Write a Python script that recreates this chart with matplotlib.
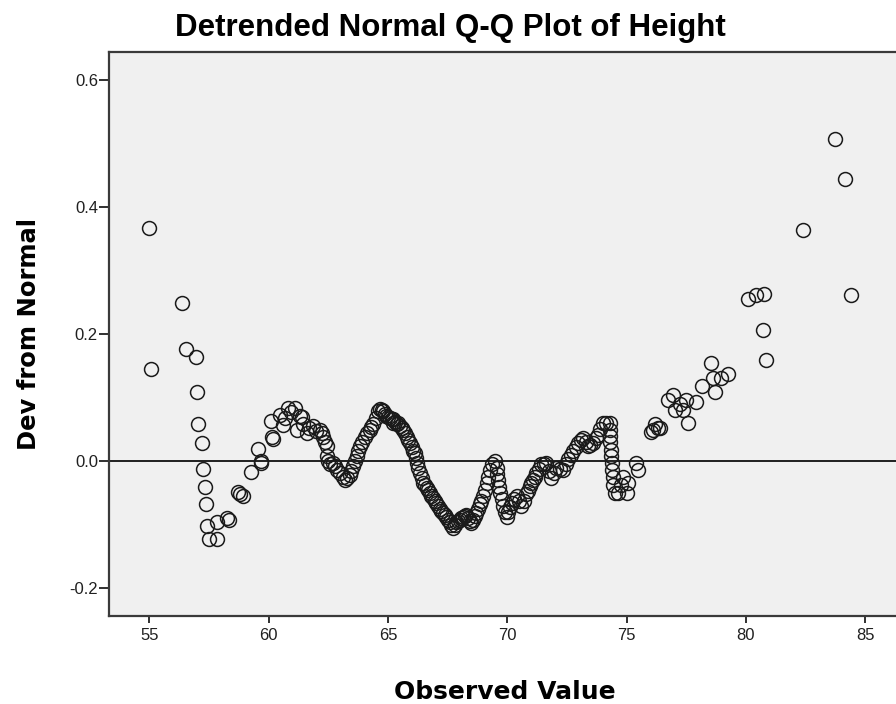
import matplotlib.pyplot as plt

obs = [55.00, 55.06, 56.38, 56.54, 56.94, 57.01, 57.05, 57.19, 57.24, 57.32,
       57.39, 57.42, 57.51, 57.85, 57.82, 58.24, 58.35, 58.70, 58.80, 58.91,
       59.25, 59.56, 59.66, 59.70, 60.08, 60.15, 60.20, 60.47, 60.59, 60.70,
       60.82, 60.95, 61.10, 61.17, 61.31, 61.40, 61.45, 61.59, 61.70, 61.87,
       62.00, 62.15, 62.22, 62.29, 62.36, 62.43, 62.43, 62.50, 62.57, 62.68,
       62.78, 62.88, 62.99, 63.10, 63.20, 63.30, 63.40, 63.47, 63.54, 63.62,
       63.69, 63.75, 63.82, 63.92, 64.03, 64.13, 64.24, 64.31, 64.38, 64.48,
       64.59, 64.66, 64.73, 64.80, 64.86, 64.93, 65.00, 65.08, 65.15, 65.22,
       65.22, 65.30, 65.36, 65.43, 65.50, 65.57, 65.64, 65.71, 65.78, 65.85,
       65.92, 66.00, 66.06, 66.13, 66.17, 66.20, 66.27, 66.34, 66.41, 66.48,
       66.55, 66.62, 66.68, 66.75, 66.82, 66.89, 66.96, 67.03, 67.10, 67.17,
       67.24, 67.31, 67.38, 67.45, 67.52, 67.59, 67.66, 67.73, 67.80, 67.87,
       67.94, 68.01, 68.08, 68.15, 68.22, 68.29, 68.36, 68.43, 68.50, 68.57,
       68.64, 68.71, 68.78, 68.85, 68.92, 68.99, 69.06, 69.13, 69.20, 69.27,
       69.38, 69.48, 69.55, 69.58, 69.62, 69.66, 69.69, 69.76, 69.83, 69.90,
       69.97, 70.04, 70.11, 70.18, 70.28, 70.39, 70.49, 70.59, 70.70, 70.80,
       70.87, 70.94, 71.01, 71.08, 71.15, 71.22, 71.32, 71.43, 71.53, 71.64,
       71.75, 71.85, 71.95, 72.06, 72.20, 72.34, 72.45, 72.55, 72.66, 72.76,
       72.87, 72.97, 73.07, 73.17, 73.28, 73.38, 73.48, 73.59, 73.70, 73.80,
       73.90, 74.01, 74.15, 74.29, 74.29, 74.30, 74.31, 74.33, 74.35, 74.37,
       74.39, 74.41, 74.45, 74.50, 74.65, 74.75, 74.86, 75.00, 75.06, 75.41,
       75.48, 76.04, 76.11, 76.18, 76.32, 76.38, 76.74, 76.94, 77.01, 77.22,
       77.36, 77.50, 77.57, 77.92, 78.18, 78.55, 78.62, 78.69, 78.97, 79.25,
       80.10, 80.41, 80.74, 80.71, 80.85, 82.39, 83.74, 84.17, 84.40]

dev = [0.367, 0.146, 0.249, 0.177, 0.164, 0.109, 0.058, 0.029, -0.012, -0.040,
       -0.068, -0.102, -0.122, -0.122, -0.095, -0.089, -0.093, -0.048, -0.051, -0.054,
       -0.017, 0.020, 0.000, -0.002, 0.063, 0.039, 0.035, 0.073, 0.057, 0.068,
       0.084, 0.078, 0.084, 0.050, 0.071, 0.069, 0.058, 0.045, 0.052, 0.055,
       0.048, 0.050, 0.044, 0.039, 0.030, 0.024, 0.008, 0.000, -0.005, -0.003,
       -0.008, -0.014, -0.018, -0.025, -0.029, -0.026, -0.021, -0.015, -0.008, 0.000,
       0.008, 0.016, 0.024, 0.031, 0.039, 0.045, 0.050, 0.054, 0.058, 0.068,
       0.079, 0.082, 0.081, 0.079, 0.075, 0.071, 0.070, 0.068, 0.066, 0.066,
       0.060, 0.062, 0.058, 0.060, 0.055, 0.052, 0.050, 0.044, 0.038, 0.033,
       0.029, 0.022, 0.016, 0.013, 0.005, -0.003, -0.010, -0.018, -0.026, -0.034,
       -0.038, -0.042, -0.045, -0.050, -0.054, -0.058, -0.062, -0.066, -0.071, -0.075,
       -0.078, -0.081, -0.085, -0.088, -0.092, -0.096, -0.100, -0.105, -0.100, -0.096,
       -0.094, -0.092, -0.090, -0.088, -0.086, -0.084, -0.090, -0.094, -0.097, -0.092,
       -0.086, -0.081, -0.075, -0.068, -0.062, -0.055, -0.045, -0.034, -0.024, -0.013,
       -0.005, 0.000, -0.010, -0.020, -0.029, -0.040, -0.050, -0.060, -0.071, -0.080,
       -0.087, -0.080, -0.072, -0.066, -0.060, -0.055, -0.063, -0.071, -0.062, -0.052,
       -0.046, -0.039, -0.034, -0.029, -0.024, -0.018, -0.012, -0.005, -0.004, -0.003,
       -0.015, -0.026, -0.018, -0.010, -0.012, -0.013, -0.005, 0.003, 0.010, 0.016,
       0.022, 0.029, 0.033, 0.037, 0.030, 0.024, 0.026, 0.029, 0.036, 0.042,
       0.051, 0.060, 0.060, 0.060, 0.050, 0.040, 0.030, 0.018, 0.008, -0.002,
       -0.013, -0.025, -0.037, -0.050, -0.050, -0.038, -0.024, -0.050, -0.034, -0.003,
       -0.013, 0.046, 0.050, 0.058, 0.053, 0.052, 0.096, 0.105, 0.081, 0.090,
       0.081, 0.096, 0.061, 0.094, 0.119, 0.154, 0.131, 0.109, 0.131, 0.137,
       0.255, 0.262, 0.264, 0.207, 0.160, 0.364, 0.508, 0.445, 0.262]

x_ticks = [55, 60, 65, 70, 75, 80, 85]
y_ticks = [-0.2, 0.0, 0.2, 0.4, 0.6]

fig = plt.figure(figsize=(8.96, 7.04), dpi=100)
ax = fig.add_axes([109 / 896, 88 / 704, 792 / 896, 564 / 704])
ax.set_facecolor('#f0f0f0')

ax.axhline(0, color='#202020', linewidth=1.4, zorder=1)
ax.plot(obs, dev, linestyle='none', marker='o', markersize=10,
        markerfacecolor='none', markeredgecolor='#1a1a1a', markeredgewidth=1.1, zorder=2)

ax.set_xlim(53.31, 86.5)
ax.set_ylim(-0.2436, 0.6445)
ax.set_xticks(x_ticks)
ax.set_yticks(y_ticks)
ax.set_yticklabels(['-0.2', '0.0', '0.2', '0.4', '0.6'])

for side in ax.spines.values():
    side.set_color('#3a3a3a')
    side.set_linewidth(1.6)

ax.tick_params(axis='both', direction='out', colors='#202020', width=1.3,
               labelsize=12, labelcolor='#202020')
ax.tick_params(axis='x', length=5, pad=4)
ax.tick_params(axis='y', length=7, pad=1)
for lab in ax.get_xticklabels() + ax.get_yticklabels():
    lab.set_fontfamily('Liberation Sans')

ax.set_xlabel('Observed Value', fontsize=18, fontweight='bold', labelpad=26)
ax.set_ylabel('Dev from Normal', fontsize=17.5, fontweight='bold', labelpad=20)

fig.text(450 / 896, 1 - 28 / 704, 'Detrended Normal Q-Q Plot of Height',
         ha='center', va='center', fontsize=22.5, fontweight='bold',
         family='Liberation Sans')

fig.savefig('out.png', dpi=100)
